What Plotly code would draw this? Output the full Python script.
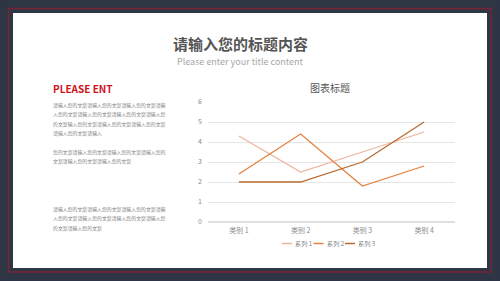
import plotly.graph_objects as go

categories = ["类别 1", "类别 2", "类别 3", "类别 4"]
series_names = ["系列 1", "系列 2", "系列 3"]
series1 = [4.3, 2.5, 3.5, 4.5]
series2 = [2.4, 4.4, 1.8, 2.8]
series3 = [2, 2, 3, 5]
y_ticks = [0, 1, 2, 3, 4, 5, 6]

title_cn = "请输入您的标题内容"
title_en = "Please enter your title content"
side_head = "PLEASE ENT"
chart_title = "图表标题"
para1 = ["请输入您的文案请输入您的文案请输入您的文案请输",
         "入您的文案请输入您的文案请输入您的文案请输入您",
         "的文案输入您的文案请输入您的文案请输入您的文案",
         "请输入您的文案请输入"]
para2 = ["您的文案请输入您的文案请输入您的文案请输入您的",
         "文案请输入您的文案请输入您的文案"]
para3 = ["请输入您的文案请输入您的文案请输入您的文案请输",
         "入您的文案请输入您的文案请输入您的文案请输入您",
         "的文案请输入您的文案"]

colors = ["#F0B49E", "#E4823F", "#B8692E"]
FONT = "Noto Sans CJK SC"

W, H = 500, 281
L, R, T, B = 208, 45, 102, 59
PW, PH = W - L - R, H - T - B


def px(x):
    return (x - L) / PW


def py(y):
    return (H - B - y) / PH


fig = go.Figure()
for name, vals, c in zip(series_names, [series1, series2, series3], colors):
    fig.add_trace(go.Scatter(x=categories, y=vals, mode="lines", name=name,
                             line=dict(color=c, width=1.3), showlegend=False))

shapes = [
    dict(type="rect", xref="paper", yref="paper", x0=px(8.5), x1=px(491), y0=py(8.5), y1=py(272),
         line=dict(color="#7A2535", width=1.5), fillcolor="rgba(0,0,0,0)", layer="below"),
    dict(type="rect", xref="paper", yref="paper", x0=px(13), x1=px(487), y0=py(13), y1=py(268),
         line=dict(width=0), fillcolor="#FFFFFF", layer="below"),
]

ann = [
    dict(text="<b>" + title_cn + "</b>", x=px(240), y=py(43), font=dict(size=15, color="#555555", family=FONT),
         xanchor="center", yanchor="middle"),
    dict(text=title_en, x=px(240), y=py(61), font=dict(size=9, color="#A6A6A6", family=FONT),
         xanchor="center", yanchor="middle"),
    dict(text="<b>" + side_head + "</b>", x=px(51), y=py(88), font=dict(size=10, color="#D0121B", family=FONT),
         xanchor="left", yanchor="middle"),
    dict(text=chart_title, x=px(330), y=py(87), font=dict(size=10, color="#595959", family=FONT),
         xanchor="center", yanchor="middle"),
]
line_pos = [(para1, [105, 114.3, 123.5, 132.7]), (para2, [151.7, 160.8]), (para3, [209, 218.3, 227.6])]
for para, ys in line_pos:
    for txt, yy in zip(para, ys):
        ann.append(dict(text=txt, x=px(51), y=py(yy), font=dict(size=4.9, color="#7F7F7F", family=FONT),
                        xanchor="left", yanchor="middle"))

# manual compact legend
leg_x0, leg_step, leg_y = 282, 31.5, 243.5
for i, (name, c) in enumerate(zip(series_names, colors)):
    x0 = leg_x0 + i * leg_step
    shapes.append(dict(type="line", xref="paper", yref="paper", x0=px(x0), x1=px(x0 + 10),
                       y0=py(leg_y), y1=py(leg_y), line=dict(color=c, width=1.5)))
    ann.append(dict(text=name, x=px(x0 + 11), y=py(leg_y), font=dict(size=6.2, color="#7F7F7F", family=FONT),
                    xanchor="left", yanchor="middle"))

for a in ann:
    a.update(xref="paper", yref="paper", showarrow=False)

fig.update_layout(
    width=W, height=H,
    margin=dict(l=L, r=R, t=T, b=B, pad=0),
    paper_bgcolor="#2E3544",
    plot_bgcolor="#FFFFFF",
    shapes=shapes,
    annotations=ann,
    font=dict(family=FONT, color="#7F7F7F", size=7),
    showlegend=False,
    xaxis=dict(range=[-0.5, 3.5], showgrid=False, zeroline=False, showline=False,
               ticks="", ticklabelstandoff=3, tickfont=dict(size=7, color="#8C8C8C"), fixedrange=True),
    yaxis=dict(range=[0, 6], tickvals=y_ticks, showgrid=True, gridcolor="#E6E6E6", gridwidth=1,
               zeroline=True, zerolinecolor="#E0E0E0", showline=False, ticks="",
               ticklabelstandoff=5, tickfont=dict(size=7, color="#8C8C8C"), fixedrange=True),
)

fig.write_html("out.html")
